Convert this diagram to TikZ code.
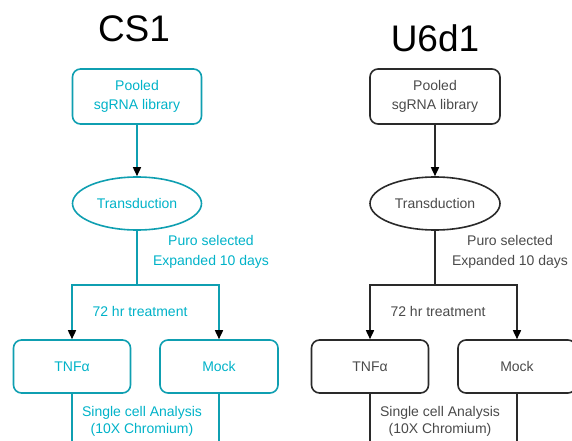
\documentclass[tikz,border=0pt]{standalone}
\usepackage{fontspec}
\setmainfont{Liberation Sans}
\usetikzlibrary{arrows.meta,shapes.geometric}
\definecolor{cyantext}{HTML}{00B2C8}
\definecolor{cyanline}{HTML}{0F9FB1}
\definecolor{graytext}{HTML}{4A4A4A}
\definecolor{grayline}{HTML}{2A2A2A}
\tikzset{
  x=1pt, y=-1pt,
  txt/.style={font=\fontsize{14}{19.5}\selectfont, align=center, inner sep=0pt},
  txtb/.style={font=\fontsize{14}{17.5}\selectfont, align=center, inner sep=0pt},
  title/.style={font=\fontsize{37}{40}\selectfont, inner sep=0pt},
  rbox/.style={draw, rounded corners=8pt, line width=1.6pt, minimum height=55pt, inner sep=0pt},
  oval/.style={draw, ellipse, line width=1.6pt, minimum width=129pt, minimum height=53pt, inner sep=0pt},
  conn/.style={line width=1.6pt},
  arr/.style={conn, -{Triangle[width=8pt,length=9pt,color=black]}},
  cs/.style={color=cyanline, text=cyantext},
  ud/.style={color=grayline, text=graytext},
}
\begin{document}
\begin{tikzpicture}
\useasboundingbox (0,0) rectangle (572,441);
\clip (0,0) rectangle (572,441);
% ---------- left panel CS1 ----------
\begin{scope}[cs]
\node[title, text=black] (t1) at (134,29) {CS1};
\node[rbox, txt, minimum width=129pt] (p1) at (137,96.5) {Pooled\\sgRNA library};
\node[oval, txt] (e1) at (137,203.5) {Transduction};
\coordinate (j1) at (137,285);
\node[rbox, txt, minimum width=117pt, minimum height=53pt] (a1) at (72,366.5) {TNFα};
\node[rbox, txt, minimum width=118pt, minimum height=53pt] (m1) at (219,366.5) {Mock};
\coordinate (ba1) at (72,441);
\coordinate (bm1) at (219,441);
\draw[arr] (p1) -- (e1);
\draw[conn] (e1) -- (j1);
\draw[arr] (j1) -| (a1.north);
\draw[arr] (j1) -| (m1.north);
\draw[conn] (a1) -- (ba1);
\draw[conn] (m1) -- (bm1);
\node[txt, text=cyantext] (l1) at (211,252) {Puro selected\\Expanded 10 days};
\node[txt, text=cyantext] (l2) at (140,311) {72 hr treatment};
\node[txtb, text=cyantext] (l3) at (142,421.5) {Single cell Analysis\\(10X Chromium)};
\end{scope}
% ---------- right panel U6d1 ----------
\begin{scope}[ud]
\node[title, text=black] (t2) at (435,38) {U6d1};
\node[rbox, txt, minimum width=130pt] (p2) at (435,96.5) {Pooled\\sgRNA library};
\node[oval, txt, minimum width=130pt] (e2) at (435,203.5) {Transduction};
\coordinate (j2) at (435,285);
\node[rbox, txt, minimum width=117pt, minimum height=53pt] (a2) at (370,366.5) {TNFα};
\node[rbox, txt, minimum width=118pt, minimum height=53pt] (m2) at (517,366.5) {Mock};
\coordinate (ba2) at (370,441);
\coordinate (bm2) at (517,441);
\draw[arr] (p2) -- (e2);
\draw[conn] (e2) -- (j2);
\draw[arr] (j2) -| (a2.north);
\draw[arr] (j2) -| (m2.north);
\draw[conn] (a2) -- (ba2);
\draw[conn] (m2) -- (bm2);
\node[txt, text=graytext] (r1) at (510,252) {Puro selected\\Expanded 10 days};
\node[txt, text=graytext] (r2) at (438,311) {72 hr treatment};
\node[txtb, text=graytext] (r3) at (440,421.5) {Single cell Analysis\\(10X Chromium)};
\end{scope}
\end{tikzpicture}
\end{document}
